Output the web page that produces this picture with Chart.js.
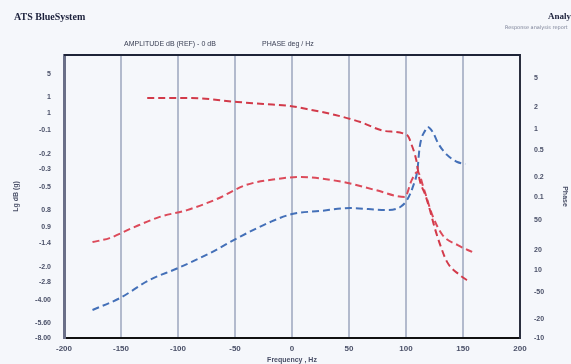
<!DOCTYPE html>
<html>
<head>
<meta charset="utf-8">
<script src="https://cdn.jsdelivr.net/npm/chart.js@4.4.1/dist/chart.umd.min.js"></script>
<style>
  html, body { margin: 0; padding: 0; background: #f5f7fb; }
  #wrap { width: 571px; height: 364px; }
</style>
</head>
<body>
<div id="wrap"><canvas id="chart" width="571" height="364"></canvas></div>
<script>
// x axis (frequency offset) ticks
const X_TICKS = [-200, -150, -100, -50, 0, 50, 100, 150, 200];
const X_LABELS = ["-200", "-150", "-100", "-50", "0", "50", "100", "150", "200"];

// left axis (amplitude) - non uniform ticks, values on a 0..100 position scale
const LEFT_TICK_VALUES = [93.3, 85.2, 79.5, 73.5, 65, 59.7, 53.4, 45.2, 39.2, 33.6, 25.1, 19.8, 13.4, 5.3, 0];
const LEFT_TICK_LABELS = ["5", "1", "1", "-0.1", "-0.2", "-0.3", "-0.5", "0.8", "0.9", "-1.4", "-2.0", "-2.8", "-4.00", "-5.60", "-8.00"];

// right axis (phase)
const RIGHT_TICK_VALUES = [91.9, 81.6, 73.9, 66.4, 56.9, 49.8, 41.7, 31.1, 24.0, 16.3, 6.7, 0];
const RIGHT_TICK_LABELS = ["5", "2", "1", "0.5", "0.2", "0.1", "50", "20", "10", "-50", "-20", "-10"];

// upper red curve
const AMP_X = [-127, -89.5, -48, -25, -2, 13, 38, 60, 82, 101, 105, 109, 112, 117, 121, 125, 130, 136, 147, 156];
const AMP_Y = [84.8, 84.8, 83.4, 82.7, 82.0, 80.9, 78.8, 76.3, 73.1, 71.7, 68.2, 62.9, 55.8, 50.5, 45.2, 39.2, 32.9, 26.9, 22.3, 19.8];

// lower red curve
const PHASE_X = [-175, -160, -140, -116, -92, -66, -40, -13, 7, 45, 73, 99, 105, 110, 116, 123, 132, 145, 158];
const PHASE_Y = [33.9, 35.3, 38.9, 42.8, 45.2, 49.1, 54.1, 56.2, 56.9, 55.1, 52.3, 49.8, 55.8, 58.7, 52.3, 43.5, 36.4, 32.9, 30.4];

// blue curve
const BLUE_X = [-175, -151, -125, -100, -72, -46, -19, 0, 25, 51, 83, 95, 101, 106, 110, 112, 117, 119, 124, 128, 136, 145, 152];
const BLUE_Y = [9.9, 14.1, 20.5, 24.7, 30.0, 35.7, 41.0, 43.8, 44.9, 45.9, 45.2, 46.3, 48.8, 53.4, 59.4, 67.5, 73.5, 74.6, 72.4, 68.9, 64.7, 62.2, 61.5];

function toPoints(xs, ys) {
  return xs.map((x, i) => ({ x: x, y: ys[i] }));
}

const headerPlugin = {
  id: "header",
  afterDraw(chart) {
    const ctx = chart.ctx;
    const area = chart.chartArea;
    ctx.save();
    // top frame line
    ctx.strokeStyle = "#1e2438";
    ctx.lineWidth = 2;
    ctx.beginPath();
    ctx.moveTo(area.left, area.top);
    ctx.lineTo(area.right, area.top);
    ctx.stroke();

    ctx.textBaseline = "middle";
    ctx.fillStyle = "#1a1f3a";
    ctx.font = "bold 10px 'Liberation Serif'";
    ctx.fillText("ATS BlueSystem", 14, 17);
    ctx.font = "bold 9px 'Liberation Serif'";
    ctx.fillText("Analysis", 548, 17);
    ctx.fillStyle = "#7a8096";
    ctx.font = "5px 'DejaVu Sans'";
    ctx.fillText("Response analysis report", 505, 28);

    ctx.fillStyle = "#3b4055";
    ctx.font = "7px 'Liberation Sans'";
    ctx.fillText("AMPLITUDE dB (REF) - 0 dB", 124, 44);
    ctx.fillText("PHASE deg / Hz", 262, 44);
    ctx.restore();
  }
};

const dash = [7, 4];

function series(label, xs, ys, color) {
  return {
    label: label,
    data: toPoints(xs, ys),
    borderColor: color,
    borderWidth: 2,
    borderDash: dash,
    pointRadius: 0,
    cubicInterpolationMode: "monotone",
    yAxisID: "y",
  };
}

const tickFont = { size: 7, family: "'Liberation Sans'", weight: "bold" };

new Chart(document.getElementById("chart"), {
  type: "line",
  data: {
    datasets: [
      series("Amplitude", AMP_X, AMP_Y, "#d23a4a"),
      series("Phase", PHASE_X, PHASE_Y, "#dc4a5a"),
      series("Blue", BLUE_X, BLUE_Y, "#4470b8"),
    ],
  },
  options: {
    responsive: false,
    animation: false,
    layout: { padding: { top: 55, left: 0, right: 0, bottom: 0 } },
    plugins: {
      legend: { display: false },
      tooltip: { enabled: false },
    },
    scales: {
      x: {
        type: "linear",
        min: -200,
        max: 200,
        afterBuildTicks: (scale) => {
          scale.ticks = X_TICKS.map((v) => ({ value: v }));
        },
        afterFit: (scale) => { scale.height = 26; },
        ticks: {
          color: "#4a5068",
          font: { size: 8, family: "'Liberation Sans'", weight: "bold" },
          padding: 6,
          maxRotation: 0,
          callback: (v, i) => X_LABELS[i],
        },
        grid: { color: "rgba(150,160,185,0.7)", lineWidth: 2, drawTicks: false },
        border: { color: "#111", width: 2 },
        title: {
          display: true,
          text: "Frequency , Hz",
          color: "#4a5068",
          font: { size: 7, family: "'Liberation Sans'", weight: "bold" },
          padding: 0,
        },
      },
      y: {
        position: "left",
        min: 0,
        max: 100,
        afterBuildTicks: (scale) => {
          scale.ticks = LEFT_TICK_VALUES.map((v) => ({ value: v }));
        },
        afterFit: (scale) => { scale.width = 64; },
        ticks: {
          color: "#4a5068",
          font: tickFont,
          padding: 5,
          callback: (v, i) => LEFT_TICK_LABELS[i],
        },
        grid: { display: false },
        border: { color: "#6a6f88", width: 3 },
        title: {
          display: true,
          text: "Lg dB (g)",
          color: "#4a5068",
          font: tickFont,
          padding: { top: 12 },
        },
      },
      y2: {
        position: "right",
        min: 0,
        max: 100,
        afterBuildTicks: (scale) => {
          scale.ticks = RIGHT_TICK_VALUES.map((v) => ({ value: v }));
        },
        afterFit: (scale) => { scale.width = 51; },
        ticks: {
          color: "#4a5068",
          font: tickFont,
          padding: 6,
          callback: (v, i) => RIGHT_TICK_LABELS[i],
        },
        grid: { display: false },
        border: { color: "#2a2e3e", width: 2 },
        title: {
          display: true,
          text: "Phase",
          color: "#4a5068",
          font: tickFont,
          padding: { top: 2 },
        },
      },
    },
  },
  plugins: [headerPlugin],
});
</script>
</body>
</html>
